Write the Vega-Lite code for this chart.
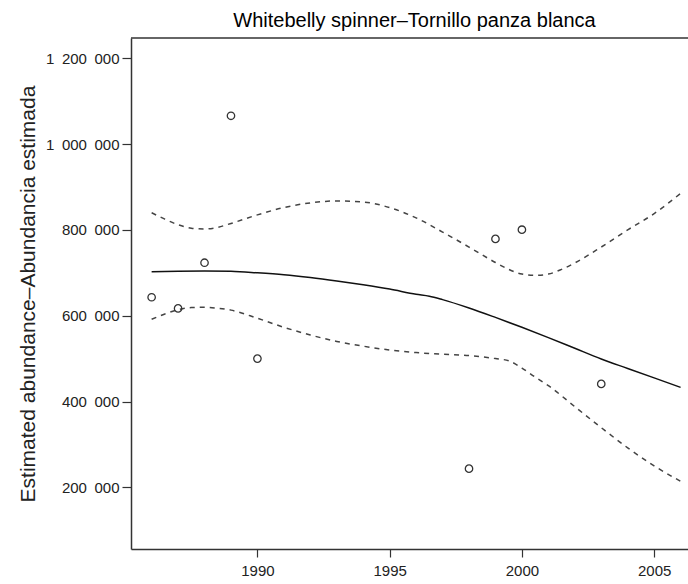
{
  "$schema": "https://vega.github.io/schema/vega-lite/v6.json",
  "width": 557,
  "height": 511,
  "autosize": {"type": "none"},
  "padding": {"left": 131, "top": 38, "right": 0, "bottom": 35},
  "background": "white",
  "config": {"view": {"stroke": null}, "font": "Liberation Sans"},
  "title": {"text": "Whitebelly spinner–Tornillo panza blanca", "fontSize": 20, "fontWeight": "normal", "font": "Liberation Sans", "color": "#000", "anchor": "middle", "dx": 5, "offset": 6},
  "datasets": {
    "curves": [
      {"year": 1986, "value": 702600, "series": "fit"},
      {"year": 1987, "value": 703800, "series": "fit"},
      {"year": 1988, "value": 704200, "series": "fit"},
      {"year": 1989, "value": 703500, "series": "fit"},
      {"year": 1990, "value": 700000, "series": "fit"},
      {"year": 1991, "value": 695500, "series": "fit"},
      {"year": 1992, "value": 689000, "series": "fit"},
      {"year": 1993, "value": 681000, "series": "fit"},
      {"year": 1994, "value": 672000, "series": "fit"},
      {"year": 1995, "value": 662000, "series": "fit"},
      {"year": 1996, "value": 650000, "series": "fit"},
      {"year": 1996.5, "value": 645500, "series": "fit"},
      {"year": 1997, "value": 637500, "series": "fit"},
      {"year": 1998, "value": 618000, "series": "fit"},
      {"year": 1999, "value": 596000, "series": "fit"},
      {"year": 2000, "value": 573000, "series": "fit"},
      {"year": 2001, "value": 549000, "series": "fit"},
      {"year": 2002, "value": 524000, "series": "fit"},
      {"year": 2003, "value": 499000, "series": "fit"},
      {"year": 2004, "value": 477000, "series": "fit"},
      {"year": 2005, "value": 455000, "series": "fit"},
      {"year": 2006, "value": 433000, "series": "fit"},
      {"year": 1986, "value": 840000, "series": "upper"},
      {"year": 1986.5, "value": 825000, "series": "upper"},
      {"year": 1987, "value": 812000, "series": "upper"},
      {"year": 1987.5, "value": 804000, "series": "upper"},
      {"year": 1988, "value": 802000, "series": "upper"},
      {"year": 1988.5, "value": 806000, "series": "upper"},
      {"year": 1989, "value": 815000, "series": "upper"},
      {"year": 1990, "value": 835000, "series": "upper"},
      {"year": 1991, "value": 852000, "series": "upper"},
      {"year": 1992, "value": 863000, "series": "upper"},
      {"year": 1993, "value": 867500, "series": "upper"},
      {"year": 1994, "value": 865000, "series": "upper"},
      {"year": 1995, "value": 852000, "series": "upper"},
      {"year": 1996, "value": 828000, "series": "upper"},
      {"year": 1997, "value": 795000, "series": "upper"},
      {"year": 1998, "value": 760000, "series": "upper"},
      {"year": 1999, "value": 724000, "series": "upper"},
      {"year": 1999.5, "value": 708000, "series": "upper"},
      {"year": 2000, "value": 697000, "series": "upper"},
      {"year": 2000.5, "value": 694000, "series": "upper"},
      {"year": 2001, "value": 697000, "series": "upper"},
      {"year": 2001.5, "value": 708000, "series": "upper"},
      {"year": 2002, "value": 723000, "series": "upper"},
      {"year": 2003, "value": 760000, "series": "upper"},
      {"year": 2004, "value": 800000, "series": "upper"},
      {"year": 2005, "value": 838000, "series": "upper"},
      {"year": 2006, "value": 885000, "series": "upper"},
      {"year": 1986, "value": 591600, "series": "lower"},
      {"year": 1986.5, "value": 604000, "series": "lower"},
      {"year": 1987, "value": 614000, "series": "lower"},
      {"year": 1987.5, "value": 619000, "series": "lower"},
      {"year": 1988, "value": 619600, "series": "lower"},
      {"year": 1988.5, "value": 617500, "series": "lower"},
      {"year": 1989, "value": 613000, "series": "lower"},
      {"year": 1990, "value": 594000, "series": "lower"},
      {"year": 1991, "value": 573000, "series": "lower"},
      {"year": 1992, "value": 555000, "series": "lower"},
      {"year": 1993, "value": 540000, "series": "lower"},
      {"year": 1994, "value": 529000, "series": "lower"},
      {"year": 1995, "value": 520000, "series": "lower"},
      {"year": 1996, "value": 514000, "series": "lower"},
      {"year": 1997, "value": 510500, "series": "lower"},
      {"year": 1998, "value": 507000, "series": "lower"},
      {"year": 1999, "value": 500000, "series": "lower"},
      {"year": 1999.5, "value": 495000, "series": "lower"},
      {"year": 2000, "value": 478000, "series": "lower"},
      {"year": 2000.5, "value": 457000, "series": "lower"},
      {"year": 2001, "value": 437000, "series": "lower"},
      {"year": 2002, "value": 388000, "series": "lower"},
      {"year": 2003, "value": 339000, "series": "lower"},
      {"year": 2004, "value": 292000, "series": "lower"},
      {"year": 2005, "value": 250000, "series": "lower"},
      {"year": 2006, "value": 214000, "series": "lower"}
    ],
    "obs": [
      {"year": 1986, "value": 643000},
      {"year": 1987, "value": 617000},
      {"year": 1988, "value": 723500},
      {"year": 1989, "value": 1066000},
      {"year": 1990, "value": 500000},
      {"year": 1998, "value": 243500},
      {"year": 1999, "value": 779000},
      {"year": 2000, "value": 800500},
      {"year": 2003, "value": 441000}
    ]
  },
  "encoding": {
    "x": {
      "field": "year", "type": "quantitative",
      "scale": {"domain": [1985.22, 2006.28], "nice": false, "zero": false},
      "axis": {"values": [1990, 1995, 2000, 2005], "format": "d", "title": null, "grid": false,
        "labelFontSize": 15, "labelColor": "#222", "labelPadding": 6, "labelFont": "Liberation Sans",
        "tickSize": 8, "tickColor": "#333", "tickWidth": 1.2, "domainColor": "#333", "domainWidth": 1.5, "labelFlush": false}
    },
    "y": {
      "field": "value", "type": "quantitative",
      "scale": {"domain": [56200, 1247300], "nice": false, "zero": false},
      "axis": {"values": [200000, 400000, 600000, 800000, 1000000, 1200000],
        "labelExpr": "replace(replace(format(datum.value, ','), ',', '\u2002'), ',', '\u2002')",
        "title": "Estimated abundance–Abundancia estimada", "titleFontSize": 21, "titleFontWeight": "normal", "titleColor": "#222", "titleFont": "Liberation Sans", "titlePadding": 7,
        "grid": false, "labelFontSize": 15, "labelColor": "#222", "labelPadding": 3, "labelFont": "Liberation Sans",
        "tickSize": 9, "tickColor": "#333", "tickWidth": 1.2, "domainColor": "#333", "domainWidth": 1.5, "labelFlush": false}
    }
  },
  "layer": [
    {
      "data": {"name": "curves"},
      "transform": [{"filter": "datum.series === 'fit'"}],
      "mark": {"type": "line", "color": "#111", "strokeWidth": 1.5, "interpolate": "monotone"}
    },
    {
      "data": {"name": "curves"},
      "transform": [{"filter": "datum.series !== 'fit'"}],
      "mark": {"type": "line", "color": "#444", "strokeWidth": 1.5, "strokeDash": [5, 5], "interpolate": "monotone"},
      "encoding": {"detail": {"field": "series"}}
    },
    {
      "data": {"name": "obs"},
      "mark": {"type": "point", "shape": "circle", "filled": false, "size": 55, "stroke": "#333", "strokeWidth": 1.3, "opacity": 1}
    },
    {
      "data": {"values": [{"top": 1247300}]},
      "mark": {"type": "rule", "color": "#333", "strokeWidth": 1.5},
      "encoding": {"y": {"field": "top", "type": "quantitative"}, "x": null}
    }
  ]
}
